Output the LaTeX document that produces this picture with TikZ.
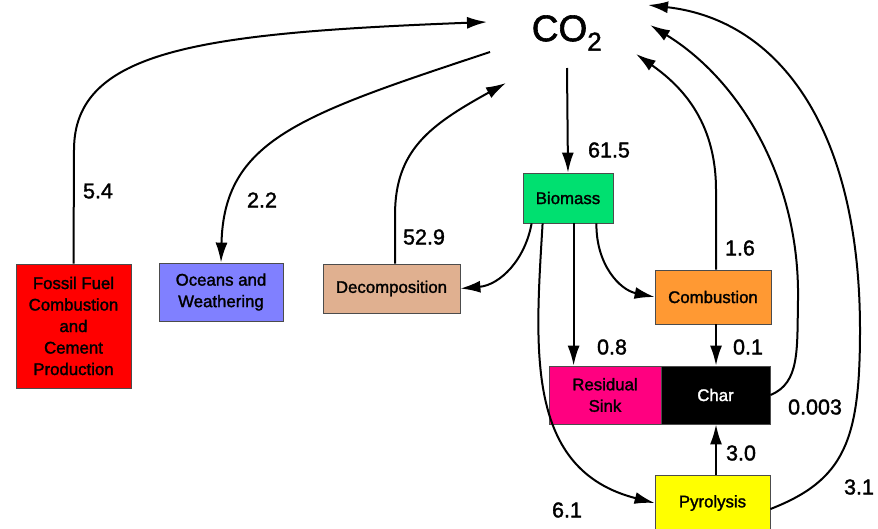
\documentclass[tikz,border=0pt]{standalone}
\usepackage{fontspec}
\setmainfont{Liberation Sans}
\newfontfamily\heavy{Liberation Sans}[FakeBold=1.6]
\usetikzlibrary{arrows.meta}
\definecolor{fossilc}{HTML}{FF0000}
\definecolor{oceanc}{HTML}{8080FF}
\definecolor{decompc}{HTML}{E0B090}
\definecolor{biomassc}{HTML}{00E070}
\definecolor{combc}{HTML}{FF9933}
\definecolor{residc}{HTML}{FF0080}
\definecolor{pyroc}{HTML}{FFFF00}
\tikzset{
  box/.style={draw=black!70, line width=0.8pt, rectangle, align=center, inner sep=0pt,
    font=\heavy\fontsize{16.8}{21.5}\selectfont},
  flow/.style={line width=2pt, -{Latex[length=20pt,width=12pt]}},
  lab/.style={font=\heavy\fontsize{21.5}{24}\selectfont, inner sep=0pt}
}
\begin{document}
\begin{tikzpicture}[x=1pt,y=-1pt]
\path[use as bounding box] (0,0) rectangle (878,528);
\clip (0,0) rectangle (878,528);
% nodes
\node[lab, font=\heavy\fontsize{37}{40}\selectfont] (co2) at (567,33) {CO\textsubscript{2}};
\node[box, fill=fossilc, minimum width=115pt, minimum height=124pt] (fossil) at (73.5,326) {Fossil Fuel\\Combustion\\and\\Cement\\Production};
\node[box, fill=oceanc, minimum width=124pt, minimum height=58pt] (oceans) at (221,292) {Oceans and\\Weathering};
\node[box, fill=decompc, minimum width=137pt, minimum height=49pt] (decomp) at (391.5,288.5) {Decomposition};
\node[box, fill=biomassc, minimum width=90pt, minimum height=50pt] (biomass) at (568,198) {Biomass};
\node[box, fill=combc, minimum width=116pt, minimum height=54pt] (comb) at (713,297) {Combustion};
\node[box, fill=residc, minimum width=112pt, minimum height=58pt] (resid) at (605,395) {Residual\\Sink};
\node[box, fill=black, text=white, minimum width=109pt, minimum height=58pt] (char) at (715.5,395) {Char};
\node[box, fill=pyroc, minimum width=115pt, minimum height=56pt] (pyro) at (712.5,503) {Pyrolysis};
% free ends near CO2
\coordinate (c1) at (487,22);
\coordinate (c2) at (490,52);
\coordinate (c3) at (506,83);
\coordinate (c4) at (567,68);
\coordinate (c5) at (636,54);
\coordinate (c6) at (650,25);
\coordinate (c7) at (648,5);
% connectors
\draw[flow] (fossil.north) -- (74,150) .. controls (74,50) and (200,33) .. (c1);
\draw[flow] (c2) .. controls (300,115) and (224,140) .. (oceans.north);
\draw[flow] ([xshift=3.5pt]decomp.north) -- (395,215) .. controls (395,150) and (430,125) .. (c3);
\draw[flow] (c4) -- (biomass.north);
\draw[flow] ([xshift=9pt]biomass.south west) .. controls (525,260) and (500,285) .. (decomp.east);
\draw[flow] ([xshift=20pt]biomass.south west) .. controls (535,350) and (525,470) .. (pyro.west);
\draw[flow] ([xshift=51pt]biomass.south west) -- ([xshift=25pt]resid.north west);
\draw[flow] ([xshift=-17pt]biomass.south east) .. controls (596,265) and (620,290) .. (comb.west);
\draw[flow] ([xshift=3pt]comb.north) -- (716,190) .. controls (716,120) and (680,85) .. (c5);
\draw[flow] ([xshift=3pt]comb.south) -- ([xshift=0.5pt]char.north);
\draw[flow] (char.east) .. controls (800,383) and (797,350) .. (798,300) .. controls (800,180) and (740,80) .. (c6);
\draw[flow] ([xshift=3.5pt]pyro.north) -- ([xshift=0.5pt]char.south);
\draw[flow] ([yshift=-6pt]pyro.east) .. controls (845,480) and (860,440) .. (860,330) .. controls (860,130) and (780,20) .. (c7);
% labels
\node[lab] (l1) at (98,191) {5.4};
\node[lab] (l2) at (262,200) {2.2};
\node[lab] (l3) at (424,237) {52.9};
\node[lab] (l4) at (609,150) {61.5};
\node[lab] (l5) at (612,347) {0.8};
\node[lab] (l6) at (748,347) {0.1};
\node[lab] (l7) at (740,248) {1.6};
\node[lab] (l8) at (815,407) {0.003};
\node[lab] (l9) at (741,453) {3.0};
\node[lab] (l10) at (567,510) {6.1};
\node[lab] (l11) at (859,487) {3.1};
\end{tikzpicture}
\end{document}
